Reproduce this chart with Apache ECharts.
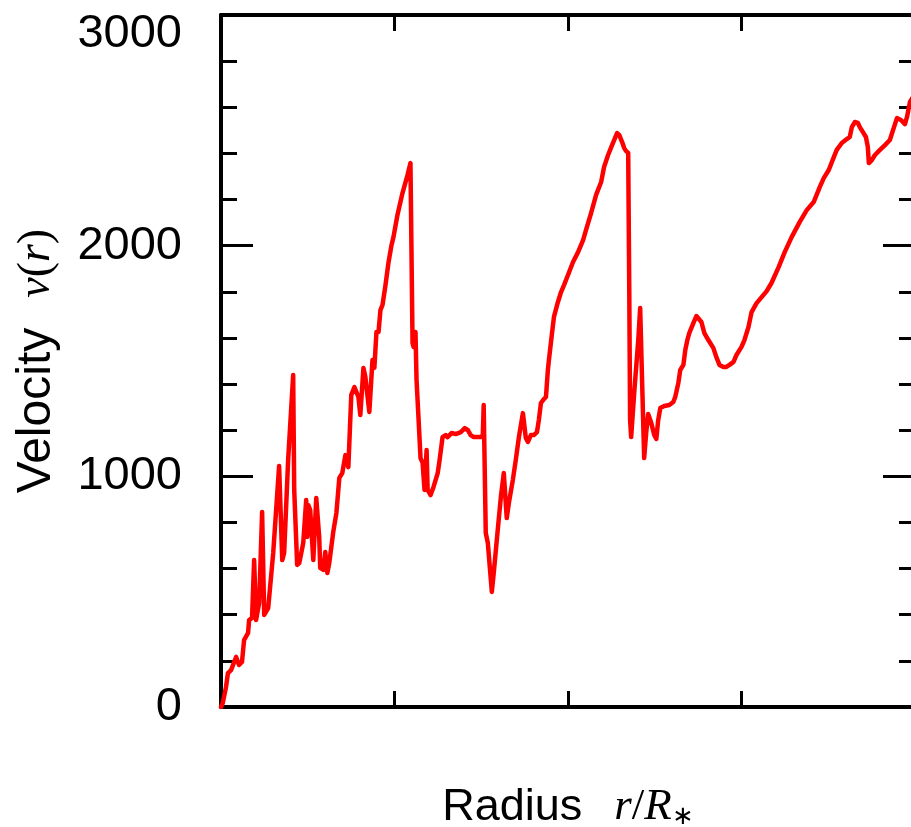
<!DOCTYPE html>
<html>
<head>
<meta charset="utf-8">
<script src="https://cdn.jsdelivr.net/npm/echarts@6/dist/echarts.min.js"></script>
<style>
  html, body { margin: 0; padding: 0; background: #fff; }
  #chart { width: 911px; height: 827px; }
</style>
</head>
<body>
<div id="chart"></div>
<script>
// Radius r/R* sample positions
const radius = [
  1.000, 1.010, 1.029, 1.040, 1.058, 1.087, 1.104, 1.121, 1.133, 1.156,
  1.162, 1.179, 1.191, 1.202, 1.220, 1.237, 1.249, 1.272, 1.283, 1.301,
  1.312, 1.335, 1.353, 1.364, 1.387, 1.416, 1.422, 1.439, 1.451, 1.474,
  1.491, 1.497, 1.503, 1.514, 1.532, 1.549, 1.566, 1.572, 1.590, 1.601,
  1.613, 1.624, 1.647, 1.665, 1.682, 1.699, 1.717, 1.734, 1.751, 1.769,
  1.792, 1.803, 1.821, 1.832, 1.855, 1.873, 1.884, 1.896, 1.908, 1.919,
  1.931, 1.948, 1.965, 1.983, 1.994, 2.017, 2.046, 2.075, 2.092, 2.104,
  2.110, 2.121, 2.127, 2.139, 2.150, 2.162, 2.173, 2.185, 2.191, 2.208,
  2.225, 2.249, 2.260, 2.277, 2.295, 2.306, 2.329, 2.353, 2.382, 2.405,
  2.422, 2.439, 2.457, 2.497, 2.509, 2.514, 2.526, 2.538, 2.561, 2.572,
  2.595, 2.613, 2.630, 2.647, 2.659, 2.682, 2.699, 2.717, 2.740, 2.757,
  2.769, 2.786, 2.803, 2.821, 2.832, 2.844, 2.861, 2.873, 2.884, 2.890,
  2.908, 2.919, 2.942, 2.960, 2.977, 3.000, 3.029, 3.058, 3.087, 3.104,
  3.133, 3.162, 3.191, 3.208, 3.231, 3.254, 3.266, 3.283, 3.295, 3.312,
  3.324, 3.335, 3.347, 3.353, 3.358, 3.364, 3.382, 3.405, 3.416, 3.428,
  3.439, 3.451, 3.462, 3.480, 3.497, 3.509, 3.520, 3.532, 3.555, 3.584,
  3.607, 3.618, 3.636, 3.647, 3.665, 3.676, 3.688, 3.699, 3.723, 3.740,
  3.751, 3.769, 3.786, 3.809, 3.838, 3.855, 3.873, 3.896, 3.913, 3.931,
  3.954, 3.971, 4.000, 4.017, 4.040, 4.058, 4.087, 4.116, 4.145, 4.173,
  4.214, 4.249, 4.289, 4.335, 4.376, 4.416, 4.451, 4.474, 4.503, 4.532,
  4.549, 4.578, 4.607, 4.624, 4.636, 4.653, 4.671, 4.682, 4.699, 4.717,
  4.728, 4.734, 4.751, 4.769, 4.798, 4.827, 4.855, 4.879, 4.896, 4.919,
  4.942, 4.954, 4.971, 4.988
];

// Wind velocity v(r) at each radius
const velocity = [
     0,   17,   87,  147,  160,  217,  182,  195,  290,  321,
   377,  386,  637,  377,  451,  845,  399,  429,  434,  668,
   672, 1045,  637,  668, 1071, 1439,  941,  616,  624,  711,
   897,  737,  876,  854,  637,  906,  737,  603,  594,  672,
   581,  624,  759,  841,  993, 1014, 1092, 1040, 1353, 1387,
  1344, 1266, 1470, 1431, 1279, 1504, 1470, 1626, 1626, 1721,
  1743, 1829, 1925, 2003, 2037, 2133, 2228, 2306, 2358, 1578,
  1561, 1626, 1418, 1244, 1079, 1058,  941, 1114,  941,  919,
   954, 1014, 1071, 1170, 1179, 1170, 1188, 1183, 1192, 1209,
  1201, 1179, 1170, 1170, 1179, 1309,  754,  711,  499,  581,
   767,  910, 1014,  819,  884,  984, 1071, 1170, 1274, 1166,
  1149, 1179, 1179, 1192, 1244, 1318, 1335, 1344, 1461, 1504,
  1621, 1691, 1756, 1799, 1829, 1873, 1929, 1972, 2024, 2068,
  2141, 2220, 2276, 2341, 2393, 2436, 2458, 2488, 2480, 2449,
  2423, 2410, 2402, 1821, 1244, 1170, 1366, 1591, 1730, 1387,
  1079, 1192, 1270, 1231, 1179, 1162, 1244, 1296, 1305, 1309,
  1322, 1344, 1405, 1461, 1483, 1548, 1591, 1621, 1665, 1695,
  1695, 1669, 1621, 1591, 1556, 1517, 1483, 1474, 1474, 1483,
  1496, 1526, 1561, 1591, 1647, 1712, 1751, 1777, 1803, 1838,
  1907, 1972, 2037, 2102, 2154, 2189, 2254, 2293, 2328, 2384,
  2415, 2445, 2462, 2471, 2514, 2536, 2532, 2514, 2493, 2471,
  2428, 2358, 2371, 2393, 2415, 2436, 2458, 2514, 2553, 2545,
  2527, 2558, 2623, 2644
];

// Axis ranges and tick labels
const radiusRange = [1, 5];
const velocityRange = [0, 3000];
const velocityTicks = [0, 1000, 2000, 3000];

const sans = '"Liberation Sans", Arial, Helvetica, sans-serif';
const serif = '"Liberation Serif", "Times New Roman", serif';

const points = radius.map((r, i) => [r, velocity[i]]);

const frameLine = { lineStyle: { color: '#000', width: 4 } };
const xTick = { show: true, inside: true, length: 16, lineStyle: { color: '#000', width: 3 } };
const yTick = { show: true, inside: true, length: 32, lineStyle: { color: '#000', width: 3 } };
const yMinor = { show: true, splitNumber: 5, length: 16, lineStyle: { color: '#000', width: 3 } };

const xBase = {
  type: 'value', min: radiusRange[0], max: radiusRange[1], interval: 1,
  axisLine: Object.assign({ show: true, onZero: false }, frameLine),
  axisTick: xTick, axisLabel: { show: false }, splitLine: { show: false }
};
const yBase = {
  type: 'value', min: velocityRange[0], max: velocityRange[1], interval: 1000,
  axisLine: Object.assign({ show: true, onZero: false }, frameLine),
  axisTick: yTick, minorTick: yMinor, splitLine: { show: false }, minorSplitLine: { show: false }
};

const chart = echarts.init(document.getElementById('chart'), null, { renderer: 'canvas' });

chart.setOption({
  animation: false,
  backgroundColor: '#fff',
  // the frame runs past the right edge of the canvas, so keep the grid exactly where it is placed
  grid: { left: 221, right: -4, top: 15, bottom: 120, containLabel: false, outerBoundsMode: 'none' },
  xAxis: [
    Object.assign({}, xBase, {
      position: 'bottom',
      name: '{t|Radius}{i|r}{s|/}{i|R}{sub|∗}',
      nameLocation: 'middle',
      nameGap: 78,
      nameTextStyle: {
        rich: {
          t: { fontFamily: sans, fontSize: 45, color: '#000', padding: [0, 32, 0, 0] },
          i: { fontFamily: serif, fontStyle: 'italic', fontSize: 45, color: '#000' },
          s: { fontFamily: serif, fontSize: 45, color: '#000' },
          sub: { fontFamily: serif, fontSize: 26, color: '#000', verticalAlign: 'bottom', padding: [16, 0, 0, 0] }
        }
      }
    }),
    Object.assign({}, xBase, { position: 'top' })
  ],
  yAxis: [
    Object.assign({}, yBase, {
      position: 'left',
      axisLabel: {
        show: true,
        margin: 39,
        color: '#000',
        fontFamily: sans,
        fontSize: 47,
        formatter: v => v === velocityTicks[velocityTicks.length - 1] ? '{top|' + v + '}' : String(v),
        rich: { top: { fontFamily: sans, fontSize: 47, color: '#000', padding: [38, 0, 0, 0] } }
      },
      name: '{t|Velocity}{i|v}{s|(}{i|r}{s|)}',
      nameLocation: 'middle',
      nameRotate: 90,
      nameGap: 160,
      nameTextStyle: {
        rich: {
          t: { fontFamily: sans, fontSize: 48, color: '#000', padding: [0, 30, 0, 0] },
          i: { fontFamily: serif, fontStyle: 'italic', fontSize: 46, color: '#000' },
          s: { fontFamily: serif, fontSize: 46, color: '#000' }
        }
      }
    }),
    Object.assign({}, yBase, { position: 'right', axisLabel: { show: false } })
  ],
  series: [{
    type: 'line',
    data: points,
    xAxisIndex: 0,
    yAxisIndex: 0,
    showSymbol: false,
    smooth: false,
    clip: true,
    lineStyle: { color: '#ff0000', width: 4.5, join: 'round', cap: 'round' }
  }]
});
</script>
</body>
</html>
